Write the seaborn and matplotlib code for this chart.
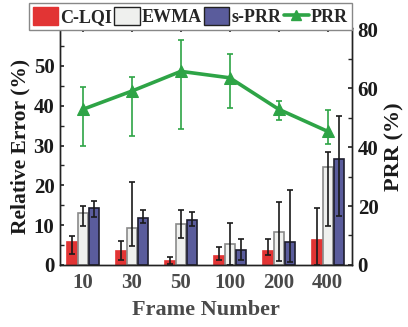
import numpy as np
import pandas as pd
import seaborn as sns
import matplotlib.pyplot as plt
from matplotlib.lines import Line2D
from matplotlib.patches import Patch

sns.set_theme(style="ticks")
plt.rcParams['font.family'] = ['Liberation Serif', 'DejaVu Serif']
plt.rcParams['font.weight'] = 'bold'

frames = ["10", "30", "50", "100", "200", "400"]
methods = ["C-LQI", "EWMA", "s-PRR"]

# relative error (%) per method: mean, lower and upper whisker ends
clqi = [5.75, 3.5, 1.0, 2.25, 3.4, 6.2]
clqi_lo = [2.7, 1.1, 0.2, 1.1, 2.5, 0.0]
clqi_hi = [7.3, 6.0, 2.0, 4.4, 6.6, 14.4]

ewma = [13.1, 9.3, 10.3, 5.2, 8.3, 24.6]
ewma_lo = [9.75, 4.75, 6.8, 0.0, 1.0, 9.75]
ewma_hi = [14.8, 20.8, 13.75, 10.4, 15.8, 28.25]

sprr = [14.2, 11.9, 11.4, 3.7, 5.8, 26.5]
sprr_lo = [12.1, 10.6, 9.75, 1.25, 0.8, 12.3]
sprr_hi = [16.1, 13.9, 13.2, 6.4, 18.75, 37.5]

# packet reception ratio (%)
prr = [52.9, 59.1, 65.8, 63.6, 52.9, 45.4]
prr_lo = [40.3, 43.8, 46.3, 53.3, 49.4, 41.1]
prr_hi = [60.4, 63.8, 76.5, 71.8, 55.6, 52.6]

colors = {"C-LQI": "#e23434", "EWMA": "#eff0ee", "s-PRR": "#5a5c9c"}
edges = {"C-LQI": "#e23434", "EWMA": "#8a8a8a", "s-PRR": "#1e1e2e"}
green = "#2ea446"

df = pd.DataFrame({
    "Frame": frames * 3,
    "Method": sum([[m] * len(frames) for m in methods], []),
    "Error": clqi + ewma + sprr,
})

fig = plt.figure(figsize=(4.08, 3.27), dpi=100)
ax = fig.add_axes([0.147, 0.19, 0.716, 0.724])

sns.barplot(data=df, x="Frame", y="Error", hue="Method", order=frames,
            hue_order=methods, palette=colors, errorbar=None,
            width=0.675, gap=0.11, ax=ax, legend=False, saturation=1)

means = {"C-LQI": (clqi, clqi_lo, clqi_hi),
         "EWMA": (ewma, ewma_lo, ewma_hi),
         "s-PRR": (sprr, sprr_lo, sprr_hi)}
for container, m in zip(ax.containers, methods):
    vals, lo, hi = means[m]
    xs = []
    for bar in container:
        bar.set_edgecolor(edges[m])
        bar.set_linewidth(1.2)
        xs.append(bar.get_x() + bar.get_width() / 2)
    vals = np.array(vals)
    yerr = np.vstack([vals - np.array(lo), np.array(hi) - vals])
    ax.errorbar(xs, vals, yerr=yerr, fmt="none", ecolor="#1a1a1a",
                elinewidth=1.2, capsize=2.5, capthick=1.2, zorder=5)

ax.set_xlim(-0.47, 5.5)
ax.set_ylim(0, 59.5)
ax.set_yticks(range(0, 51, 10))
ax.set_yticks(range(5, 59, 5), minor=True)
ax.set_xlabel("Frame Number", fontsize=16, fontweight="bold", color="#4a4a4a", labelpad=5)
ax.set_ylabel("Relative Error (%)", fontsize=15.5, fontweight="bold", color="#1a1a1a", labelpad=2)
ax.tick_params(axis="x", direction="in", top=True, length=3, labelsize=15,
               labelcolor="#4a4a4a", pad=6)
ax.tick_params(axis="y", which="both", direction="in", length=3, labelsize=15,
               labelcolor="#1a1a1a", pad=4)
for s in ax.spines.values():
    s.set_linewidth(1.0)
    s.set_color("#222222")

ax2 = ax.twinx()
xpos = np.arange(len(frames))
prr_a = np.array(prr)
ax2.errorbar(xpos, prr_a, yerr=np.vstack([prr_a - np.array(prr_lo), np.array(prr_hi) - prr_a]),
             fmt="none", ecolor=green, elinewidth=1.2, capsize=2.5, capthick=1.2)
sns.lineplot(x=xpos, y=prr_a, ax=ax2, color=green, lw=2.6, marker="^",
             markersize=9, markeredgecolor=green, legend=False)
ax2.set_ylim(0, 80.5)
ax2.set_yticks(range(0, 81, 20))
ax2.set_yticks(range(10, 80, 20), minor=True)
ax2.set_ylabel("PRR (%)", fontsize=16, fontweight="bold", color="#1a1a1a", labelpad=4)
ax2.tick_params(axis="y", which="both", direction="in", length=3, labelsize=15,
                labelcolor="#1a1a1a", pad=4)
for s in ax2.spines.values():
    s.set_linewidth(1.0)
    s.set_color("#222222")

handles = [Patch(facecolor=colors[m], edgecolor=("#222222" if m != "C-LQI" else colors[m]), lw=1.0)
           for m in methods]
handles.append(Line2D([0], [0], color=green, lw=2.6, marker="^", markersize=7))
leg = fig.legend(handles, methods + ["PRR"], loc="upper right",
                 bbox_to_anchor=(352 / 408, 1 - 3 / 327), ncol=4,
                 prop={"family": "Liberation Serif", "weight": "bold", "size": 13},
                 handlelength=1.4, handleheight=1.15, handletextpad=0.12,
                 columnspacing=0.12, borderpad=0.22, borderaxespad=0.0,
                 fancybox=False, framealpha=1, edgecolor="#888888")
leg.get_frame().set_linewidth(1.0)

fig.savefig("out.png", dpi=100)
